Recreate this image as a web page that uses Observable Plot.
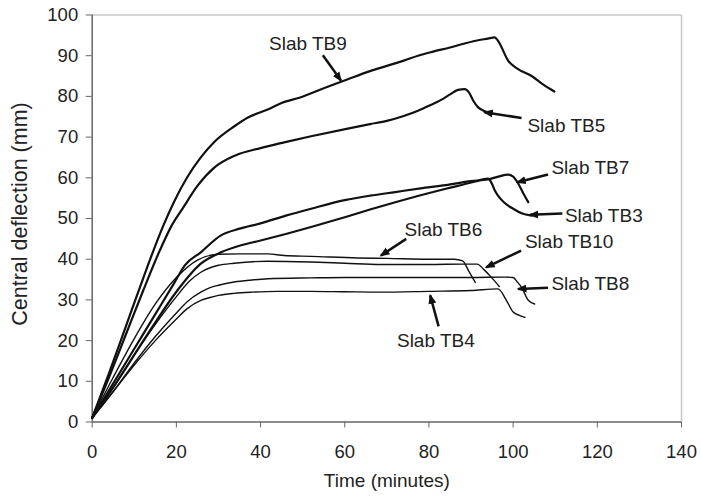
<!DOCTYPE html>
<html><head><meta charset="utf-8">
<script src="https://cdn.jsdelivr.net/npm/d3@7"></script>
<script src="https://cdn.jsdelivr.net/npm/@observablehq/plot@0.6"></script>
<style>body{margin:0;background:#fff} svg{display:block}</style>
</head><body><div id="chart"></div>
<script>
// Time (minutes) and central deflection (mm) per slab
const tb9Time = [0,4,8,12,14.5,17,19.4,22.5,25.8,29,33.7,37,41.7,45,49.6,55,60.7,66,70,74,77.4,81,85,88.5,91.7,94,95.6,96.5,98.8,101,104.4,107,109.8];
const tb9Defl = [1,12,23.5,35,42,48.5,54,60,65,68.8,72.6,74.8,76.8,78.4,79.8,82,84.2,86.2,87.5,88.8,90,91,92,93,93.8,94.2,94.5,93.5,88.8,86.8,85,83,81.2];
const tb5Time = [0,4,8,12,16,19,21.5,25,29,34,40,45.6,52,60.7,66,70,74,77.4,80,83,85,86.9,88.5,89.5,90.5,91.7,93,94];
const tb5Defl = [1,11,21.5,32,42,48.5,52.5,58,62.5,65.5,67.3,68.7,70.2,72.1,73.2,74,75.2,76.5,77.7,79.2,80.5,81.6,81.8,81,79,77.3,76.5,76.1];
const tb7Time = [0,5,10,15,19.4,22,25.8,30.5,35,40,46,52,60,66,72,78,84,90,94,96.5,98.8,100,101.2,102.5,103.6];
const tb7Defl = [1,9.5,18,26.5,34,38.5,41.7,45.8,47.5,48.8,50.7,52.4,54.5,55.6,56.5,57.4,58.2,59.2,59.6,60.3,60.8,60.3,58.6,56,54];
const tb3Time = [0,5,10,15,20,25.8,30.6,35,40,46,52,60,66,72,78,84,88,91,94,95,95.6,96.5,98,100,102,104.4];
const tb3Defl = [1,8.5,16.5,24.5,32,38.9,41.7,43.3,44.6,46.2,47.9,50.3,52.2,54,55.7,57.3,58.3,59.1,59.8,58.5,57,55.5,53.8,52.4,51.3,50.7];
const tb6Time = [0,5,10,15,20,25,30,35,41.7,45.6,52,63,70,80,86,88,89.5,91];
const tb6Defl = [1,11,20.5,29,35.5,39.8,41.2,41.3,41.3,40.9,40.7,40.3,40.2,40,40,39.6,37,34.3];
const tb10Time = [0,5,10,15,20,23,25.8,28,30,33.7,41.7,52,60,68.6,80,88,91.5,93,94.8,96.7];
const tb10Defl = [1,8.5,16.5,24,30.8,34.5,36.8,37.9,38.5,39,39.5,39.3,39,38.7,38.7,38.8,38.8,37.5,35.6,33.3];
const tb8Time = [0,5,10,15,20,22.5,25.8,28,30,33.7,38,41.7,52,60,68.6,80,90,98,100,101,102,103.6,105.1];
const tb8Defl = [1,7.5,14.5,21,26.8,29.5,31.9,33,33.6,34.4,34.9,35.2,35.4,35.5,35.5,35.5,35.5,35.6,35.5,34.4,33.1,29.9,29];
const tb4Time = [0,5,10,15,20,22.5,25.8,28,30,33.7,38,44,52,60,68.6,80,90,96.4,98.4,100,101.5,102.8];
const tb4Defl = [1,7.5,14,20,25.3,27.8,29.9,30.6,31.1,31.6,31.9,32.1,32.1,32,31.9,32.1,32.3,32.7,29.9,27,26.2,25.7];

const heavyNames = ["TB9","TB5","TB7","TB3"];
const lightNames = ["TB6","TB10","TB8","TB4"];

// Annotation labels and arrows (data coordinates)
const labelText = ["Slab TB9","Slab TB5","Slab TB7","Slab TB3","Slab TB6","Slab TB10","Slab TB8","Slab TB4"];
const labelX = [42.0,103.4,109.1,112.3,74.2,102.8,109.1,72.4];
const labelY = [93.0,72.8,62.4,50.7,47.2,44.2,34.0,19.9];
const arrowX1 = [54.8,102.0,108.3,111.7,74.6,101.9,108.3,82.3];
const arrowY1 = [90.1,74.7,60.8,51.2,45.0,42.1,33.0,23.5];
const arrowX2 = [59.1,93.2,101.0,104.0,68.6,93.6,101.2,80.3];
const arrowY2 = [83.9,76.1,58.9,50.9,40.9,38.0,32.7,31.1];

const xTicks = [0,20,40,60,80,100,120,140];
const yTicks = [0,10,20,30,40,50,60,70,80,90,100];

const seriesMap = {
  TB9:[tb9Time,tb9Defl], TB5:[tb5Time,tb5Defl], TB7:[tb7Time,tb7Defl], TB3:[tb3Time,tb3Defl],
  TB6:[tb6Time,tb6Defl], TB10:[tb10Time,tb10Defl], TB8:[tb8Time,tb8Defl], TB4:[tb4Time,tb4Defl]
};
const rows = names => names.flatMap(n => seriesMap[n][0].map((t,i) => ({slab:n, t, d: seriesMap[n][1][i]})));
const heavyRows = rows(heavyNames);
const lightRows = rows(lightNames);
const labels = labelText.map((s,i) => ({s, x: labelX[i], y: labelY[i], x1: arrowX1[i], y1: arrowY1[i], x2: arrowX2[i], y2: arrowY2[i]}));

const font = "'Liberation Sans', Arial, sans-serif";
const svg = Plot.plot({
  width: 701,
  height: 497,
  marginLeft: 91.7,
  marginRight: 20,
  marginTop: 14.5,
  marginBottom: 75.5,
  style: {fontFamily: font, background: "#fff", color: "#222"},
  x: {domain: [0,140]},
  y: {domain: [0,100]},
  marks: [
    Plot.ruleY([100], {stroke: "#c8c8c8", strokeWidth: 1.5}),
    Plot.ruleX([140], {stroke: "#c8c8c8", strokeWidth: 1.5}),
    Plot.axisX({ticks: xTicks, tickSize: 6, tickPadding: 17, fontSize: 18.5, stroke: "#666", fill: "#222", label: null}),
    Plot.axisY({ticks: yTicks, tickSize: 6, tickPadding: 8, fontSize: 18.5, stroke: "#666", fill: "#222", label: null}),
    Plot.ruleY([0], {stroke: "#666", strokeWidth: 1.5}),
    Plot.ruleX([0], {stroke: "#666", strokeWidth: 1.5}),
    Plot.line(lightRows, {x: "t", y: "d", z: "slab", stroke: "#111", strokeWidth: 1.4, curve: "monotone-x"}),
    Plot.line(heavyRows, {x: "t", y: "d", z: "slab", stroke: "#111", strokeWidth: 2.2, curve: "monotone-x"}),
    Plot.link(labels, {x1: "x1", y1: "y1", x2: "x2", y2: "y2", stroke: "#111", strokeWidth: 2.5, markerEnd: "arrow"}),
    Plot.text(labels, {x: "x", y: "y", text: "s", textAnchor: "start", fontSize: 19, fill: "#222"}),
    Plot.text(["Time (minutes)"], {text: d => d, frameAnchor: "bottom", dy: 65, fontSize: 19, fill: "#222"}),
    Plot.text(["Central deflection (mm)"], {text: d => d, frameAnchor: "left", textAnchor: "middle", rotate: -90, dx: -72, dy: -4.5, fontSize: 21.5, fill: "#222"})
  ]
});
// filled arrowheads
d3.select(svg).selectAll("marker").attr("fill", "#111").attr("stroke", "none");
d3.select(svg).selectAll("marker path").attr("d", "M-5,-2.4L1,0L-5,2.4Z").attr("fill", "#111").attr("stroke", "none");
document.getElementById("chart").appendChild(svg);
</script>
</body></html>
